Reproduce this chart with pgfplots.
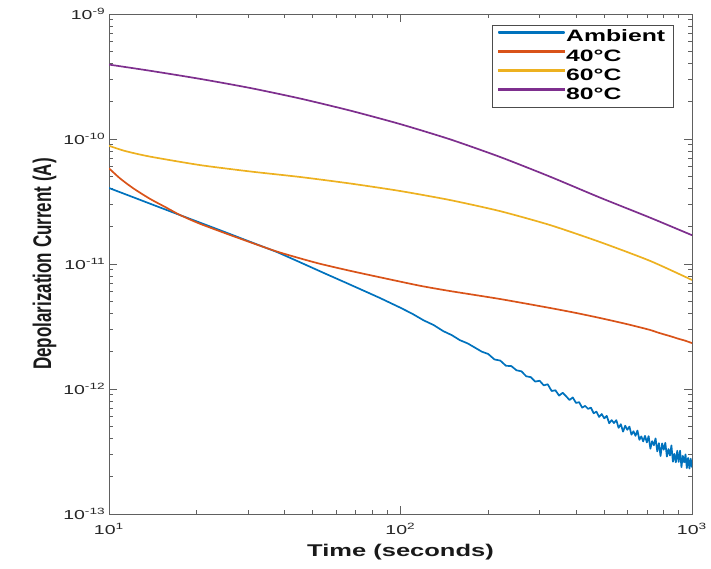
\documentclass[border=0pt]{standalone}
\usepackage{pgfplots}
\pgfplotsset{compat=1.18}
\usetikzlibrary{calc}
\usepackage{graphicx}
\usepackage{fontspec}
\setmainfont{Liberation Sans}

\definecolor{mblue}{rgb}{0,0.447,0.741}
\definecolor{morange}{rgb}{0.85,0.325,0.098}
\definecolor{myellow}{rgb}{0.929,0.694,0.125}
\definecolor{mpurple}{rgb}{0.494,0.184,0.556}

% the reference is stretched sideways, so text is too
\newcommand{\hs}[1]{\scalebox{1.5}[1]{#1}}
\newcommand{\vs}[1]{\scalebox{1}[1.5]{#1}}

\begin{document}
\begin{tikzpicture}
\begin{axis}[
    name=ax,
    scale only axis,
    width=583pt, height=500pt,
    xmode=log, ymode=log,
    xmin=10, xmax=1000,
    ymin=1e-13, ymax=1e-9,
    xtick={10,100,1000},
    xticklabels={\hs{10\textsuperscript{1}},\hs{10\textsuperscript{2}},\hs{10\textsuperscript{3}}},
    ytick={1e-13,1e-12,1e-11,1e-10,1e-9},
    yticklabels={\hs{10\textsuperscript{-13}},\hs{10\textsuperscript{-12}},\hs{10\textsuperscript{-11}},\hs{10\textsuperscript{-10}},\hs{10\textsuperscript{-9}}},
    tick align=inside,
    major tick length=8pt, minor tick length=4pt,
    axis line style={gray!75!black, line width=0.7pt},
    every tick/.style={gray!75!black, line width=0.6pt},
    tick label style={font=\fontsize{13}{15}\selectfont, text=black!85},
    xticklabel style={yshift=-6pt},
    xlabel={\hs{Time (seconds)}},
    ylabel={\vs{Depolarization Current (A)}},
    xlabel style={yshift=-3pt},
    label style={font=\fontsize{17}{20}\selectfont\bfseries, text=black!90},
    legend cell align=left,
    legend style={at={(1,1)}, anchor=north east, xshift=-19pt, yshift=-11pt,
        draw=gray!60!black, fill=white,
        font=\fontsize{16.5}{18}\selectfont\bfseries,
        inner xsep=6pt, inner ysep=2.5pt,
        nodes={inner sep=1.6pt, text height=12.5pt, text depth=3.5pt}},
    legend image code/.code={\fill[#1] (0pt,4.5pt) rectangle (65pt,5.6pt);},
]

% Ambient
\addplot[mblue, line width=1.7pt, line join=round] coordinates {
(10,4.055e-11)(12,3.45e-11)(14,3.006e-11)(17.5,2.466e-11)(20,2.193e-11)
(25,1.80e-11)(30,1.528e-11)(37.7,1.247e-11)(45,1.038e-11)(55,8.41e-12)
(65,7.08e-12)(75,6.10e-12)(85,5.35e-12)(92,4.90e-12)(100,4.467e-12)
(110,3.989e-12)(120,3.546e-12)(130,3.247e-12)(140,2.910e-12)(150,2.696e-12)
(160,2.457e-12)(170,2.317e-12)(180,2.144e-12)(190,1.991e-12)(200,1.906e-12)
(210,1.725e-12)(220,1.687e-12)(230,1.534e-12)(240,1.526e-12)(250,1.412e-12)
(260,1.385e-12)(270,1.264e-12)(280,1.244e-12)(290,1.146e-12)(300,1.165e-12)
(310,1.070e-12)(320,1.091e-12)(330,0.964e-12)(340,0.977e-12)(350,0.886e-12)
(360,0.932e-12)(370,0.875e-12)(380,0.817e-12)(390,0.856e-12)(400,0.774e-12)
(410,0.785e-12)(420,0.710e-12)(430,0.733e-12)(440,0.694e-12)(450,0.709e-12)
(460,0.640e-12)(470,0.659e-12)(480,0.598e-12)(490,0.631e-12)(500,0.583e-12)
(510,0.610e-12)(520,0.532e-12)(530,0.564e-12)(540,0.534e-12)(550,0.564e-12)
(560,0.489e-12)(570,0.523e-12)(580,0.456e-12)(590,0.509e-12)(600,0.472e-12)
(610,0.500e-12)(620,0.431e-12)(630,0.459e-12)(640,0.422e-12)(650,0.465e-12)
(660,0.392e-12)(670,0.418e-12)(680,0.381e-12)(690,0.422e-12)(700,0.374e-12)
(710,0.420e-12)(720,0.333e-12)(730,0.383e-12)(740,0.355e-12)(750,0.403e-12)
(760,0.317e-12)(770,0.369e-12)(780,0.291e-12)(790,0.367e-12)(800,0.327e-12)
(810,0.371e-12)(820,0.288e-12)(830,0.331e-12)(840,0.294e-12)(850,0.354e-12)
(860,0.262e-12)(870,0.303e-12)(880,0.259e-12)(890,0.321e-12)(900,0.261e-12)
(910,0.321e-12)(920,0.237e-12)(930,0.292e-12)(940,0.259e-12)(950,0.300e-12)
(960,0.233e-12)(970,0.281e-12)(980,0.231e-12)(990,0.277e-12)(1000,0.236e-12)
};
\addlegendentry{\hs{Ambient}}

% 40 C
\addplot[morange, line width=1.7pt, smooth, tension=0.4] coordinates {
(10,5.83e-11)(10.9,4.85e-11)(12.1,4.04e-11)(13.8,3.33e-11)(15.8,2.81e-11)
(17.5,2.47e-11)(20.5,2.10e-11)(26.7,1.67e-11)(37.6,1.26e-11)(51.6,1.02e-11)
(67.1,8.83e-12)(87.3,7.73e-12)(116.7,6.70e-12)(147.8,6.08e-12)(219.4,5.25e-12)
(325.8,4.45e-12)(400,4.06e-12)(483.4,3.70e-12)(600,3.30e-12)(717.8,2.97e-12)
(760,2.84e-12)(800,2.74e-12)(850,2.63e-12)(900,2.52e-12)(940,2.45e-12)
(970,2.39e-12)(1000,2.33e-12)
};
\addlegendentry{\hs{40°C}}

% 60 C
\addplot[myellow, line width=1.7pt, smooth, tension=0.4] coordinates {
(10,8.83e-11)(11.35,8.02e-11)(13.8,7.24e-11)(20.5,6.19e-11)(30.5,5.50e-11)
(45.2,4.97e-11)(67.1,4.41e-11)(99.6,3.84e-11)(147.8,3.25e-11)(219.4,2.65e-11)
(325.8,2.05e-11)(483.4,1.50e-11)(717.8,1.06e-11)(1000,7.45e-12)
};
\addlegendentry{\hs{60°C}}

% 80 C
\addplot[mpurple, line width=1.7pt, smooth, tension=0.4] coordinates {
(10,3.94e-10)(13.8,3.52e-10)(20.5,3.03e-10)(30.5,2.56e-10)(45.2,2.11e-10)
(67.1,1.69e-10)(99.6,1.318e-10)(147.8,9.95e-11)(219.4,7.19e-11)(325.8,5.00e-11)
(483.4,3.40e-11)(717.8,2.35e-11)(1000,1.70e-11)
};
\addlegendentry{\hs{80°C}}

\end{axis}
\path ($(ax.south west)+(-109pt,-55pt)$) rectangle ($(ax.north east)+(19pt,14pt)$);
\end{tikzpicture}
\end{document}
